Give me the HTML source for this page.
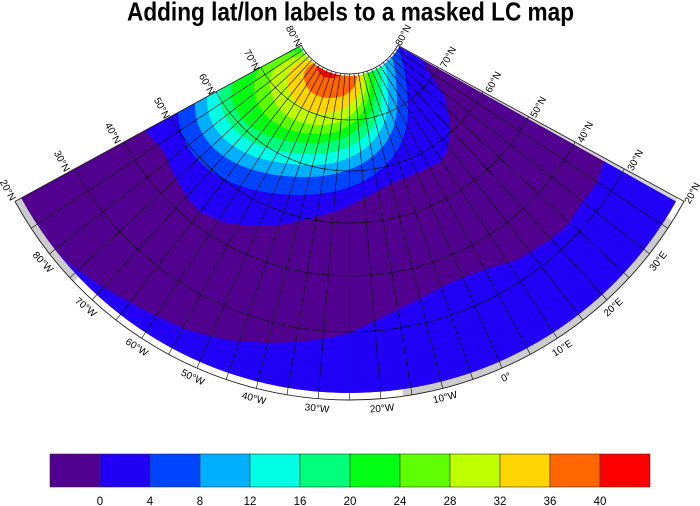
<!DOCTYPE html>
<html>
<head>
<meta charset="utf-8">
<style>
html,body{margin:0;padding:0;background:#fff;}
svg{display:block;}
</style>
</head>
<body>
<svg xmlns="http://www.w3.org/2000/svg" width="700" height="506" viewBox="0 0 700 506" font-family="'Liberation Sans', Arial, sans-serif">
<rect x="0" y="0" width="700" height="506" fill="#fff"/>
<defs>
  <clipPath id="dataclip">
    <path d="M21.14,198.03 L299.45,46.29 A57,57 0 0 0 399.25,46.81 L675.95,201.46 A374,374 0 0 1 21.14,198.03 Z"/>
  </clipPath>
  <clipPath id="perclip">
    <path d="M15.0,201.4 L301.2,45.3 A55,55 0 0 0 397.8,45.3 L684.0,201.4 A381,381 0 0 1 15.0,201.4 Z"/>
  </clipPath>
</defs>

<!-- gray land strips in outer ring -->
<path d="M15.0,201.4 A381,381 0 0 0 73.59,281.75 L78.66,276.92 A374,374 0 0 1 21.14,198.03 Z" fill="#cccccc"/>
<path d="M403.18,396.20 A381,381 0 0 0 672.61,220.90 L666.67,217.19 A374,374 0 0 1 402.20,389.27 Z" fill="#cccccc"/>
<path d="M445.52,72.66 L446.08,71.66 L677.86,198.03 L675.95,201.46 Z" fill="#d4d4d4"/>

<!-- data field -->
<g clip-path="url(#dataclip)">
  <rect x="0" y="0" width="700" height="420" fill="#52008F"/>
  <!-- lower 0-4 band -->
  <path fill="#2200F6" d="M0,255 L50,244 L56,252 L72,266 L95,282 L120,297 L150,313 L187,330 L227,340 L267,343 L300,342 L333,337 L350,333 L383,317 L417,300 L450,283 L483,270 L517,260 L550,240 L567,226 L582,203 L597,183 L605,158 L640,140 L720,220 L720,500 L0,500 Z"/>
  <!-- level 0 -->
  <path fill="#2200F6" d="M415,20 L421,58 L432,77 L445,97 L450,123 L448,150 L440,162 L417,173 L390,184 L365,198 L340,210 L310,219 L280,225 L250,226 L223,222 L200,212 L187,197 L173,173 L163,150 L150,136 L135,120 L120,0 L415,0 Z"/>
  <!-- level 4 -->
  <path fill="#0044FF" d="M178,110 C178,161 226.8,195 300,195 C364.8,195 408,161 408,110 C408,26 364.8,-30 300,-30 C226.8,-30 178,26 178,110 Z"/>
  <!-- level 8 -->
  <path fill="#00B0FF" d="M195,105 C195,148.2 239,177 305,177 C360.2,177 397,148.2 397,105 C397,21 360.2,-35 305,-35 C239,-35 195,21 195,105 Z"/>
  <!-- level 12 -->
  <path fill="#00FFE4" d="M207,100 C207,139 248.2,165 310,165 C356.8,165 388,139 388,100 C388,22 356.8,-30 310,-30 C248.2,-30 207,22 207,100 Z"/>
  <!-- level 16 -->
  <path fill="#00FF7A" d="M220,95 C220,130.4 256.8,154 312,154 C354,154 382,130.4 382,95 C382,23 354,-25 312,-25 C256.8,-25 220,23 220,95 Z"/>
  <!-- level 20 -->
  <path fill="#00FF12" d="M231,90 C231,121.8 264.6,143 315,143 C351,143 375,121.8 375,90 C375,24 351,-20 315,-20 C264.6,-20 231,24 231,90 Z"/>
  <!-- level 24 -->
  <path fill="#5EFF00" d="M254,85 C254,114.4 279.6,134 318,134 C349.2,134 370,114.4 370,85 C370,64 349.2,50 318,50 C279.6,50 254,64 254,85 Z"/>
  <!-- level 28 -->
  <path fill="#BEFF00" d="M270,82 C270,107.8 290,125 320,125 C347.6,125 366,107.8 366,82 C366,65.2 347.6,54 320,54 C290,54 270,65.2 270,82 Z"/>
  <!-- level 32 -->
  <path fill="#FFD500" d="M287,78 C287,99 301.4,113 323,113 C346.4,113 362,99 362,78 C362,66 346.4,58 323,58 C301.4,58 287,66 287,78 Z"/>
  <!-- level 36 -->
  <path fill="#FF6600" d="M304,76 C304,89.2 314.4,98 330,98 C346.2,98 357,89.2 357,76 C357,66.4 346.2,60 330,60 C314.4,60 304,66.4 304,76 Z"/>
  <!-- level 40 -->
  <path fill="#FF0000" d="M317,66 C317,73.2 322.6,78 331,78 C338.8,78 344,73.2 344,66 C344,54 338.8,46 331,46 C322.6,46 317,54 317,66 Z"/>
</g>

<!-- grid -->
<g clip-path="url(#perclip)">
  <g fill="none" stroke="#000" stroke-width="0.6">
    <circle cx="349.5" cy="19" r="101"/>
    <circle cx="349.5" cy="19" r="152"/>
    <circle cx="349.5" cy="19" r="204"/>
    <circle cx="349.5" cy="19" r="257"/>
    <circle cx="349.5" cy="19" r="313"/>
  </g>
  <g transform="translate(349.5,19)" stroke="#000" stroke-width="0.6">
    <line x1="0" y1="50" x2="0" y2="390" transform="rotate(56.677)"/>
    <line x1="0" y1="50" x2="0" y2="390" transform="rotate(51.954)"/>
    <line x1="0" y1="50" x2="0" y2="390" transform="rotate(47.231)"/>
    <line x1="0" y1="50" x2="0" y2="390" transform="rotate(42.508)"/>
    <line x1="0" y1="50" x2="0" y2="390" transform="rotate(37.785)"/>
    <line x1="0" y1="50" x2="0" y2="390" transform="rotate(33.062)"/>
    <line x1="0" y1="50" x2="0" y2="390" transform="rotate(28.338)"/>
    <line x1="0" y1="50" x2="0" y2="390" transform="rotate(23.615)"/>
    <line x1="0" y1="50" x2="0" y2="390" transform="rotate(18.892)"/>
    <line x1="0" y1="50" x2="0" y2="390" transform="rotate(14.169)"/>
    <line x1="0" y1="50" x2="0" y2="390" transform="rotate(9.446)"/>
    <line x1="0" y1="50" x2="0" y2="390" transform="rotate(4.723)"/>
    <line x1="0" y1="50" x2="0" y2="390"/>
    <line x1="0" y1="50" x2="0" y2="390" transform="rotate(-4.723)"/>
    <line x1="0" y1="50" x2="0" y2="390" transform="rotate(-9.446)"/>
    <line x1="0" y1="50" x2="0" y2="390" transform="rotate(-14.169)"/>
    <line x1="0" y1="50" x2="0" y2="390" transform="rotate(-18.892)"/>
    <line x1="0" y1="50" x2="0" y2="390" transform="rotate(-23.615)"/>
    <line x1="0" y1="50" x2="0" y2="390" transform="rotate(-28.338)"/>
    <line x1="0" y1="50" x2="0" y2="390" transform="rotate(-33.062)"/>
    <line x1="0" y1="50" x2="0" y2="390" transform="rotate(-37.785)"/>
    <line x1="0" y1="50" x2="0" y2="390" transform="rotate(-42.508)"/>
    <line x1="0" y1="50" x2="0" y2="390" transform="rotate(-47.231)"/>
    <line x1="0" y1="50" x2="0" y2="390" transform="rotate(-51.954)"/>
    <line x1="0" y1="50" x2="0" y2="390" transform="rotate(-56.677)"/>
  </g>
</g>

<!-- perimeter -->
<path d="M15.0,201.4 L301.2,45.3 A55,55 0 0 0 397.8,45.3 L684.0,201.4 A381,381 0 0 1 15.0,201.4 Z" fill="none" stroke="#222" stroke-width="0.9"/>

<!-- latitude labels -->
<g font-size="10" fill="#000" text-anchor="middle">
  <text transform="translate(8,190) rotate(61.4)" dy="3.5">20°N</text>
  <text transform="translate(62,161) rotate(61.4)" dy="3.5">30°N</text>
  <text transform="translate(113,133) rotate(61.4)" dy="3.5">40°N</text>
  <text transform="translate(162,108) rotate(61.4)" dy="3.5">50°N</text>
  <text transform="translate(207,84) rotate(61.4)" dy="3.5">60°N</text>
  <text transform="translate(252,60) rotate(61.4)" dy="3.5">70°N</text>
  <text transform="translate(294,36) rotate(61.4)" dy="3.5">80°N</text>
  <text transform="translate(403,35) rotate(-61.4)" dy="3.5">80°N</text>
  <text transform="translate(448,57) rotate(-61.4)" dy="3.5">70°N</text>
  <text transform="translate(493,82) rotate(-61.4)" dy="3.5">60°N</text>
  <text transform="translate(538,107) rotate(-61.4)" dy="3.5">50°N</text>
  <text transform="translate(585,132) rotate(-61.4)" dy="3.5">40°N</text>
  <text transform="translate(635,160) rotate(-61.4)" dy="3.5">30°N</text>
  <text transform="translate(692,193) rotate(-61.4)" dy="3.5">20°N</text>
  <!-- longitude labels -->
  <text transform="translate(43,262) rotate(47)" dy="3.5">80°W</text>
  <text transform="translate(86,307) rotate(40)" dy="3.5">70°W</text>
  <text transform="translate(137,347) rotate(33)" dy="3.5">60°W</text>
  <text transform="translate(193,377) rotate(26)" dy="3.5">50°W</text>
  <text transform="translate(254,398) rotate(15)" dy="3.5">40°W</text>
  <text transform="translate(317,408) rotate(6)" dy="3.5">30°W</text>
  <text transform="translate(382,408) rotate(-5)" dy="3.5">20°W</text>
  <text transform="translate(445,397) rotate(-14)" dy="3.5">10°W</text>
  <text transform="translate(506,377) rotate(-23.6)" dy="3.5">0°</text>
  <text transform="translate(562,348) rotate(-33)" dy="3.5">10°E</text>
  <text transform="translate(613,307) rotate(-42.5)" dy="3.5">20°E</text>
  <text transform="translate(658,261) rotate(-52)" dy="3.5">30°E</text>
</g>

<!-- colorbar -->
<g stroke="#333" stroke-width="0.6">
  <rect x="50" y="454" width="50" height="33" fill="#52008F"/>
  <rect x="100" y="454" width="50" height="33" fill="#2200F6"/>
  <rect x="150" y="454" width="50" height="33" fill="#0044FF"/>
  <rect x="200" y="454" width="50" height="33" fill="#00B0FF"/>
  <rect x="250" y="454" width="50" height="33" fill="#00FFE4"/>
  <rect x="300" y="454" width="50" height="33" fill="#00FF7A"/>
  <rect x="350" y="454" width="50" height="33" fill="#00FF12"/>
  <rect x="400" y="454" width="50" height="33" fill="#5EFF00"/>
  <rect x="450" y="454" width="50" height="33" fill="#BEFF00"/>
  <rect x="500" y="454" width="50" height="33" fill="#FFD500"/>
  <rect x="550" y="454" width="50" height="33" fill="#FF6600"/>
  <rect x="600" y="454" width="50" height="33" fill="#FF0000"/>
</g>
<g font-size="11.5" fill="#000" text-anchor="middle">
  <text x="100" y="505">0</text>
  <text x="150" y="505">4</text>
  <text x="200" y="505">8</text>
  <text x="250" y="505">12</text>
  <text x="300" y="505">16</text>
  <text x="350" y="505">20</text>
  <text x="400" y="505">24</text>
  <text x="450" y="505">28</text>
  <text x="500" y="505">32</text>
  <text x="550" y="505">36</text>
  <text x="600" y="505">40</text>
</g>

<!-- title -->
<text x="127" y="20.7" font-size="26" font-weight="bold" fill="#000" textLength="447" lengthAdjust="spacingAndGlyphs">Adding lat/lon labels to a masked LC map</text>
</svg>
</body>
</html>
